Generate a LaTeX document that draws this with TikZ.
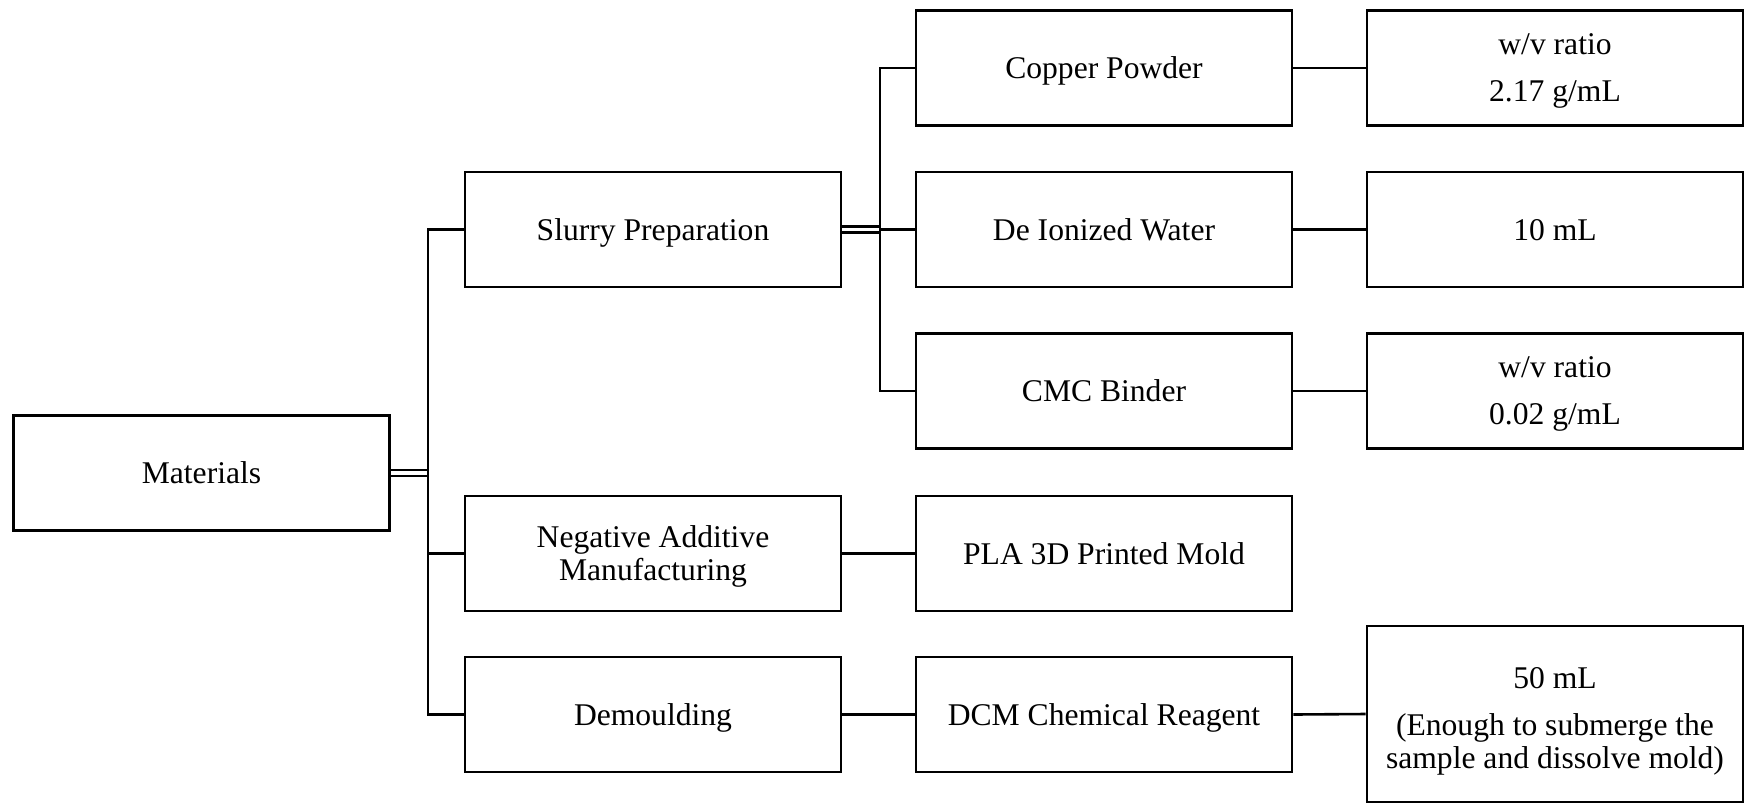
\documentclass[tikz,border=0pt]{standalone}
\usepackage{fontspec}
\setmainfont{Liberation Serif}
\begin{document}
\begin{tikzpicture}[x=0.5pt,y=-0.5pt,
  box/.style={draw,line width=1.3pt,minimum width=188pt,minimum height=57.5pt,inner sep=0pt,text depth=0pt,align=center,font=\fontsize{15.8}{16.5}\selectfont},
  conn/.style={line width=1.3pt},
  dbl/.style={line width=1.1pt}]
\useasboundingbox (0,0) rectangle (1744,804);
\node[box] (mat) at (201.5,473) {Materials};
\node[box] (slu) at (653,229.5) {Slurry Preparation};
\node[box] (neg) at (653,553.5) {Negative Additive\\Manufacturing};
\node[box] (dem) at (653,714.5) {Demoulding};
\node[box] (cop) at (1104,68) {Copper Powder};
\node[box] (diw) at (1104,229.5) {De Ionized Water};
\node[box] (cmc) at (1104,391) {CMC Binder};
\node[box] (pla) at (1104,553.5) {PLA 3D Printed Mold};
\node[box] (dcm) at (1104,714.5) {DCM Chemical Reagent};
\node[box] (v1) at (1555,68) {w/v ratio\\[7pt]2.17 g/mL};
\node[box] (v2) at (1555,229.5) {10 mL};
\node[box] (v3) at (1555,391) {w/v ratio\\[7pt]0.02 g/mL};
\node[box,minimum height=88pt] (v4) at (1555,714) {\rule{0pt}{14pt}50 mL\\[7pt](Enough to submerge the\\sample and dissolve mold)};
\coordinate (b1) at (428,0);
\coordinate (b2) at (880,0);
% level 1 bus
\draw[dbl] ([yshift=1.5pt]mat.east) -- ([yshift=1.5pt]mat.east -| b1);
\draw[dbl] ([yshift=-1.5pt]mat.east) -- ([yshift=-1.5pt]mat.east -| b1);
\draw[conn] (slu.west) -- (slu.west -| b1) -- (dem.west -| b1) -- (dem.west);
\draw[conn] (neg.west) -- (neg.west -| b1);
% level 2 bus
\draw[dbl] ([yshift=1.5pt]slu.east) -- ([yshift=1.5pt]slu.east -| b2);
\draw[dbl] ([yshift=-1.5pt]slu.east) -- ([yshift=-1.5pt]slu.east -| b2);
\draw[conn] (cop.west) -- (cop.west -| b2) -- (cmc.west -| b2) -- (cmc.west);
\draw[conn] (diw.west) -- (diw.west -| b2);
% direct links
\draw[conn] (neg.east) -- (pla.west);
\draw[conn] (dem.east) -- (dcm.west);
\draw[conn] (cop.east) -- (v1.west);
\draw[conn] (diw.east) -- (v2.west);
\draw[conn] (cmc.east) -- (v3.west);
\draw[conn] (dcm.east) -- (v4.west);
\end{tikzpicture}
\end{document}
